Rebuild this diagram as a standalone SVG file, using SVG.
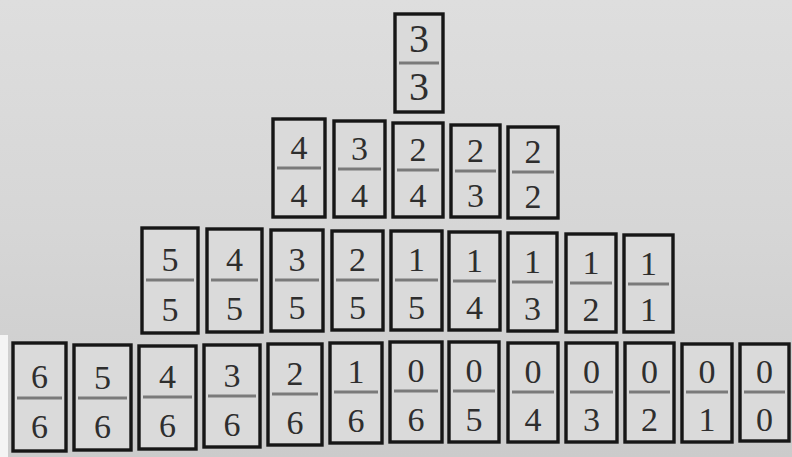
<svg xmlns="http://www.w3.org/2000/svg" width="792" height="457" viewBox="0 0 792 457">
<defs>
<linearGradient id="bg" x1="0" y1="0" x2="0" y2="1">
<stop offset="0" stop-color="#dedede"/>
<stop offset="0.5" stop-color="#d6d6d6"/>
<stop offset="1" stop-color="#cbcbcb"/>
</linearGradient>
<style>
.t{fill:#dadada;stroke:#161616;stroke-width:3.4}
.d{stroke:#7a7a7a;stroke-width:3}
.n{font-family:"Liberation Serif","Times New Roman",serif;font-size:34px;fill:#2e2e2e;text-anchor:middle}
.b{font-size:40px}
</style>
</defs>
<rect width="792" height="457" fill="url(#bg)"/>
<rect x="0" y="335" width="8" height="122" fill="#f4f4f4"/>
<g id="connectors"/>
<g id="t33"><rect class="t" x="395" y="14" width="48" height="98"/><line class="d" x1="399" y1="63" x2="439" y2="63"/><text class="n b" x="419" y="52">3</text><text class="n b" x="419" y="100">3</text></g>
<g id="t44"><rect class="t" x="273" y="119" width="52" height="98"/><line class="d" x1="277" y1="168" x2="321" y2="168"/><text class="n" x="299" y="159">4</text><text class="n" x="299" y="207">4</text></g>
<g id="t34"><rect class="t" x="334" y="121" width="51" height="96"/><line class="d" x1="338" y1="169" x2="381" y2="169"/><text class="n" x="359.5" y="160">3</text><text class="n" x="359.5" y="207">4</text></g>
<g id="t24"><rect class="t" x="393" y="123" width="50" height="94"/><line class="d" x1="397" y1="170" x2="439" y2="170"/><text class="n" x="418" y="161">2</text><text class="n" x="418" y="207">4</text></g>
<g id="t23"><rect class="t" x="451" y="125" width="49" height="92"/><line class="d" x1="455" y1="171" x2="496" y2="171"/><text class="n" x="475.5" y="162">2</text><text class="n" x="475.5" y="207">3</text></g>
<g id="t22"><rect class="t" x="508" y="127" width="50" height="91"/><line class="d" x1="512" y1="172" x2="554" y2="172"/><text class="n" x="533" y="163">2</text><text class="n" x="533" y="208">2</text></g>
<g id="t55"><rect class="t" x="142" y="228" width="56" height="105"/><line class="d" x1="146" y1="280" x2="194" y2="280"/><text class="n" x="170" y="271">5</text><text class="n" x="170" y="321">5</text></g>
<g id="t45"><rect class="t" x="207" y="229" width="55" height="103"/><line class="d" x1="211" y1="280" x2="258" y2="280"/><text class="n" x="234.5" y="271">4</text><text class="n" x="234.5" y="320">5</text></g>
<g id="t35"><rect class="t" x="271" y="230" width="52" height="101"/><line class="d" x1="275" y1="280" x2="319" y2="280"/><text class="n" x="297" y="271">3</text><text class="n" x="297" y="319">5</text></g>
<g id="t25"><rect class="t" x="332" y="231" width="51" height="99"/><line class="d" x1="336" y1="280" x2="379" y2="280"/><text class="n" x="357.5" y="271">2</text><text class="n" x="357.5" y="319">5</text></g>
<g id="t15"><rect class="t" x="391" y="231" width="51" height="99"/><line class="d" x1="395" y1="280" x2="438" y2="280"/><text class="n" x="416.5" y="271">1</text><text class="n" x="416.5" y="319">5</text></g>
<g id="t14"><rect class="t" x="449" y="232" width="51" height="98"/><line class="d" x1="453" y1="281" x2="496" y2="281"/><text class="n" x="474.5" y="272">1</text><text class="n" x="474.5" y="319">4</text></g>
<g id="t13"><rect class="t" x="508" y="233" width="49" height="98"/><line class="d" x1="512" y1="282" x2="553" y2="282"/><text class="n" x="532.5" y="273">1</text><text class="n" x="532.5" y="320">3</text></g>
<g id="t12"><rect class="t" x="566" y="234" width="50" height="98"/><line class="d" x1="570" y1="283" x2="612" y2="283"/><text class="n" x="591" y="274">1</text><text class="n" x="591" y="321">2</text></g>
<g id="t11"><rect class="t" x="624" y="235" width="49" height="97"/><line class="d" x1="628" y1="284" x2="669" y2="284"/><text class="n" x="648.5" y="275">1</text><text class="n" x="648.5" y="321">1</text></g>
<g id="t66"><rect class="t" x="13" y="343" width="53" height="108"/><line class="d" x1="17" y1="398" x2="62" y2="398"/><text class="n" x="39.5" y="388">6</text><text class="n" x="39.5" y="438">6</text></g>
<g id="t56"><rect class="t" x="74" y="345" width="57" height="105"/><line class="d" x1="78" y1="398" x2="127" y2="398"/><text class="n" x="102.5" y="389">5</text><text class="n" x="102.5" y="438">6</text></g>
<g id="t46"><rect class="t" x="139" y="346" width="57" height="103"/><line class="d" x1="143" y1="397" x2="192" y2="397"/><text class="n" x="167.5" y="388">4</text><text class="n" x="167.5" y="437">6</text></g>
<g id="t36"><rect class="t" x="204" y="345" width="56" height="102"/><line class="d" x1="208" y1="396" x2="256" y2="396"/><text class="n" x="232" y="387">3</text><text class="n" x="232" y="436">6</text></g>
<g id="t26"><rect class="t" x="268" y="344" width="54" height="101"/><line class="d" x1="272" y1="394" x2="318" y2="394"/><text class="n" x="295" y="385">2</text><text class="n" x="295" y="434">6</text></g>
<g id="t16"><rect class="t" x="330" y="343" width="52" height="100"/><line class="d" x1="334" y1="392" x2="378" y2="392"/><text class="n" x="356" y="383">1</text><text class="n" x="356" y="432">6</text></g>
<g id="t06"><rect class="t" x="390" y="342" width="52" height="100"/><line class="d" x1="394" y1="391" x2="438" y2="391"/><text class="n" x="416" y="382">0</text><text class="n" x="416" y="431">6</text></g>
<g id="t05"><rect class="t" x="449" y="342" width="50" height="100"/><line class="d" x1="453" y1="391" x2="495" y2="391"/><text class="n" x="474" y="382">0</text><text class="n" x="474" y="431">5</text></g>
<g id="t04"><rect class="t" x="508" y="343" width="50" height="99"/><line class="d" x1="512" y1="392" x2="554" y2="392"/><text class="n" x="533" y="383">0</text><text class="n" x="533" y="431">4</text></g>
<g id="t03"><rect class="t" x="566" y="343" width="51" height="99"/><line class="d" x1="570" y1="392" x2="613" y2="392"/><text class="n" x="591.5" y="383">0</text><text class="n" x="591.5" y="431">3</text></g>
<g id="t02"><rect class="t" x="625" y="343" width="49" height="99"/><line class="d" x1="629" y1="392" x2="670" y2="392"/><text class="n" x="649.5" y="383">0</text><text class="n" x="649.5" y="431">2</text></g>
<g id="t01"><rect class="t" x="682" y="344" width="50" height="98"/><line class="d" x1="686" y1="392" x2="728" y2="392"/><text class="n" x="707" y="383">0</text><text class="n" x="707" y="431">1</text></g>
<g id="t00"><rect class="t" x="740" y="344" width="49" height="97"/><line class="d" x1="744" y1="392" x2="785" y2="392"/><text class="n" x="764.5" y="383">0</text><text class="n" x="764.5" y="431">0</text></g>
</svg>
